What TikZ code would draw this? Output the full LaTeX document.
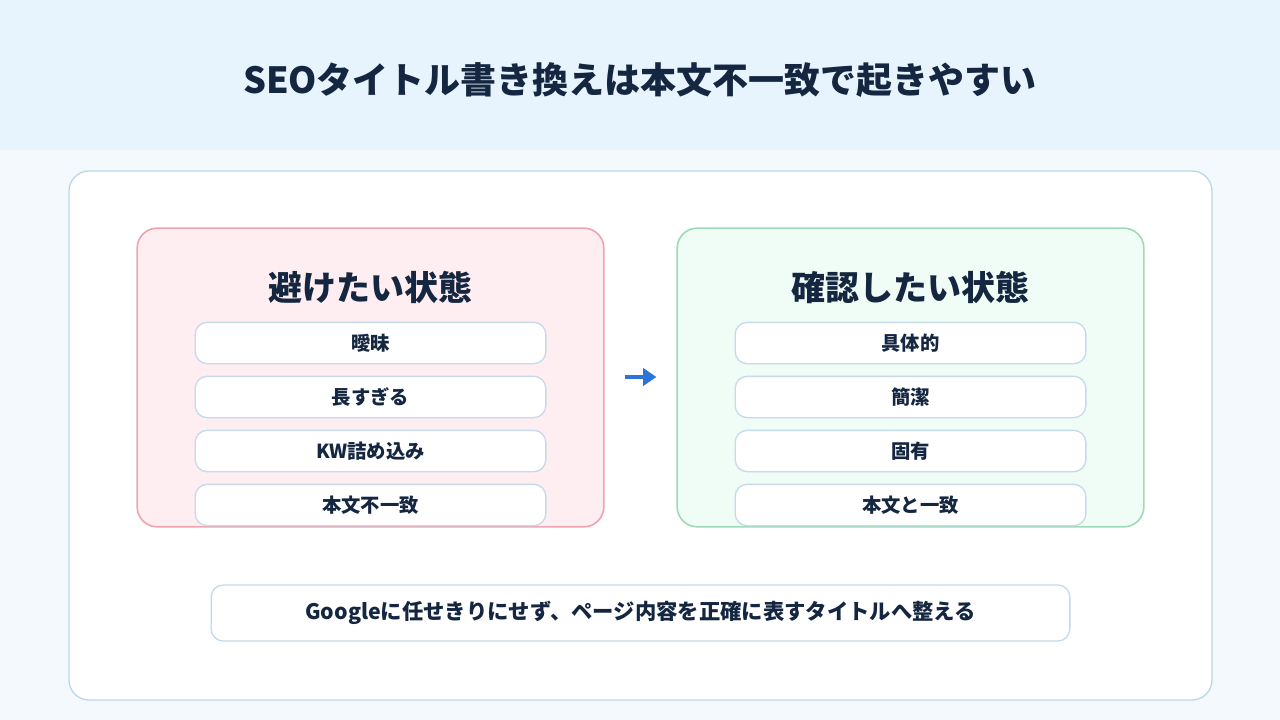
\documentclass[tikz,border=0pt]{standalone}
\usepackage{fontspec}
\setmainfont{Noto Sans CJK JP}
\usetikzlibrary{arrows.meta, positioning}
\definecolor{inkblue}{HTML}{142640}
\definecolor{bandblue}{HTML}{E7F4FD}
\definecolor{pageblue}{HTML}{F4F9FD}
\definecolor{panelline}{HTML}{BBD8E6}
\definecolor{badfill}{HTML}{FFEEF1}
\definecolor{badline}{HTML}{EFA3B0}
\definecolor{goodfill}{HTML}{EFFDF6}
\definecolor{goodline}{HTML}{9CDAB8}
\definecolor{itemline}{HTML}{C6DAEA}
\definecolor{arrowblue}{HTML}{2B74D9}
\tikzset{
  groupbox/.style={draw, line width=1.2pt, rounded corners=15pt, minimum width=350pt, minimum height=224pt},
  itembox/.style={draw=itemline, line width=1pt, fill=white, rounded corners=9pt,
    minimum width=263pt, minimum height=31pt, font=\bfseries\fontsize{14.5}{16}\selectfont, text=inkblue},
  grouptitle/.style={font=\bfseries\fontsize{25.5}{30}\selectfont, text=inkblue},
}
\begin{document}
\begin{tikzpicture}[x=0.75pt, y=-0.75pt, node distance=8.5pt]
    % Background
    \fill[pageblue] (0,0) rectangle (1280,720);
    \fill[bandblue] (0,0) rectangle (1280,150);
    \node (title) [font=\bfseries\fontsize{27}{32}\selectfont, text=inkblue] at (640,80) {SEOタイトル書き換えは本文不一致で起きやすい};
    \draw[panelline, line width=1pt, fill=white, rounded corners=15pt] (69,171) rectangle (1212,700);

    % Avoid group
    \node (avoid) [groupbox, draw=badline, fill=badfill] at (370.5,377.5) {};
    \node (avoidtitle) [grouptitle] at (370.5,287) {避けたい状態};
    \node (a1) [itembox] at (370.5,343) {曖昧};
    \node (a2) [itembox, below=of a1] {長すぎる};
    \node (a3) [itembox, below=of a2] {KW詰め込み};
    \node (a4) [itembox, below=of a3] {本文不一致};

    % Check group
    \node (check) [groupbox, draw=goodline, fill=goodfill] at (910.5,377.5) {};
    \node (checktitle) [grouptitle] at (910.5,287) {確認したい状態};
    \node (c1) [itembox] at (910.5,343) {具体的};
    \node (c2) [itembox, below=of c1] {簡潔};
    \node (c3) [itembox, below=of c2] {固有};
    \node (c4) [itembox, below=of c3] {本文と一致};

    % Arrow
    \draw[-{Triangle[length=10pt, width=13pt]}, arrowblue, line width=3pt, shorten <=15pt, shorten >=15pt] (avoid.east |- 0,377) -- (check.west |- 0,377);

    % Summary
    \node (summary) [itembox, minimum width=644pt, minimum height=42pt, font=\bfseries\fontsize{16}{19}\selectfont] at (640.5,613) {Googleに任せきりにせず、ページ内容を正確に表すタイトルへ整える};
\end{tikzpicture}
\end{document}
